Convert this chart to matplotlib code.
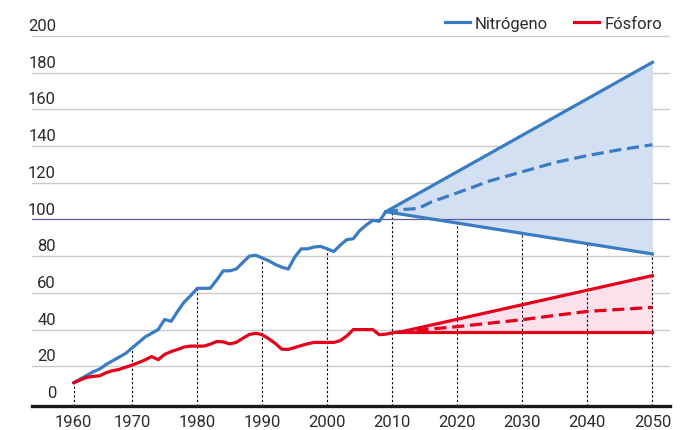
import numpy as np
import matplotlib
matplotlib.use("Agg")
import matplotlib.pyplot as plt
from matplotlib.lines import Line2D

plt.rcParams['font.family'] = ['Roboto', 'DejaVu Sans']

# historical series (1961-2011)
years_hist = np.arange(1961, 2012)
nitrogen = [11, 13, 15, 17, 18.5, 21, 23, 25, 27, 30,
            33, 36, 38, 40, 45.5, 44.5, 50, 55, 58.5, 62.5,
            62.5, 62.5, 67, 72, 72, 73, 76.5, 80, 80.5, 79,
            77.5, 75.5, 74, 73, 79.5, 84, 84, 85, 85.3, 84,
            82.5, 86, 89, 89.5, 94, 97, 99.5, 99, 104.2]
phosphorus = [11, 12.5, 14, 14.5, 14.8, 16.5, 17.6, 18.3, 19.5, 20.7,
              22, 23.5, 25.3, 23.6, 26.5, 28, 29.2, 30.5, 31, 31,
              31, 32, 33.5, 33.3, 32.2, 33, 35.2, 37.3, 38, 37.2,
              35, 32.5, 29.3, 29.2, 30.2, 31.3, 32.3, 33, 33, 33,
              33, 34, 36.5, 40, 40, 40, 40, 37.2, 37.5, 38.2, 38.7]

# projections to 2050
n_range_years = [2009, 2050]
n_high = [104.2, 185.6]
n_low = [104.2, 81.2]
n_mid_years = [2009, 2012, 2014, 2016, 2018, 2020, 2025, 2030, 2035, 2040, 2045, 2050]
n_mid = [104.2, 105.5, 106, 109.5, 112, 114.5, 121, 126, 131, 134.8, 138, 140.7]

p_range_years = [2011, 2050]
p_high = [38.5, 69.4]
p_low = [38.5, 38.5]
p_mid_years = [2011, 2015, 2020, 2025, 2030, 2035, 2040, 2045, 2050]
p_mid = [38.5, 40, 41.6, 43.5, 45.4, 47.7, 49.9, 51, 52.1]

tick_pos = [1961, 1970, 1980, 1990, 2000, 2010, 2020, 2030, 2040, 2050]
tick_labels = ['1960', '1970', '1980', '1990', '2000', '2010', '2020', '2030', '2040', '2050']
y_labels = [0, 20, 40, 60, 80, 100, 120, 140, 160, 180, 200]

blue = '#3a7cc4'
red = '#e3001b'
txt = '#2b2b2b'
fs = 12

fig = plt.figure(figsize=(6.93, 4.31), dpi=100)
ax = fig.add_axes([32 / 693, 24.3 / 431, 638 / 693, 386.7 / 431])
ax.set_xlim(1954.6, 2052.7)
ax.set_ylim(-1.47, 209.2)

# grid and y labels (right-aligned, sitting on the lines)
for v in y_labels:
    if v == 100:
        ax.axhline(v, color='#5a5aa0', lw=0.9, zorder=3)
    elif v > 0:
        ax.axhline(v, color='#cacaca', lw=1.0, zorder=0)
    ax.text(24 / 638, v + 1.6, str(v), transform=ax.get_yaxis_transform(),
            ha='right', va='bottom', fontsize=fs, color=txt)

# fills
ax.fill_between(n_range_years, n_low, n_high, color='#d3e0f2', lw=0, zorder=1)
ax.fill_between(p_range_years, p_low, p_high, color='#fbe1ec', lw=0, zorder=1)

# dotted drop lines
tops = []
for t in tick_pos:
    if t <= 2009:
        tops.append(np.interp(t, years_hist[:len(nitrogen)], nitrogen))
    else:
        tops.append(np.interp(t, n_range_years, n_low))
ax.vlines(tick_pos, -1.5, tops, colors='k', linestyles=(0, (2, 2)), lw=0.8, zorder=2)

# lines
ax.plot(years_hist[:len(nitrogen)], nitrogen, color=blue, lw=2.3, zorder=4,
        solid_joinstyle='round', solid_capstyle='round')
ax.plot(years_hist, phosphorus, color=red, lw=2.3, zorder=4,
        solid_joinstyle='round', solid_capstyle='round')
ax.plot(n_range_years, n_high, color=blue, lw=2.3, zorder=4)
ax.plot(n_range_years, n_low, color=blue, lw=2.3, zorder=4)
ax.plot(n_mid_years, n_mid, color=blue, lw=2.3, ls=(0, (3.8, 1.8)), zorder=4)
ax.plot(p_range_years, p_high, color=red, lw=2.3, zorder=4)
ax.plot(p_range_years, p_low, color=red, lw=2.3, zorder=4)
ax.plot(p_mid_years, p_mid, color=red, lw=2.3, ls=(0, (3.8, 1.8)), zorder=4)

ax.set_xticks(tick_pos)
ax.set_xticklabels(tick_labels)
ax.tick_params(axis='x', length=0, pad=6, labelsize=fs, labelcolor=txt)
ax.set_yticks([])
for s in ['top', 'right', 'left']:
    ax.spines[s].set_visible(False)
ax.spines['bottom'].set_color('#1a1a1a')
ax.spines['bottom'].set_linewidth(2.4)
ax.spines['bottom'].set_zorder(5)

handles = [Line2D([], [], color=blue, lw=2.3), Line2D([], [], color=red, lw=2.3)]
fig.legend(handles, ['Nitrógeno', 'Fósforo'], loc='upper right', ncol=2,
           bbox_to_anchor=(0.977, 0.995), frameon=False, fontsize=fs,
           handlelength=1.5, handletextpad=0.3, columnspacing=1.6,
           labelcolor=txt)

fig.savefig('out.png', dpi=100)
